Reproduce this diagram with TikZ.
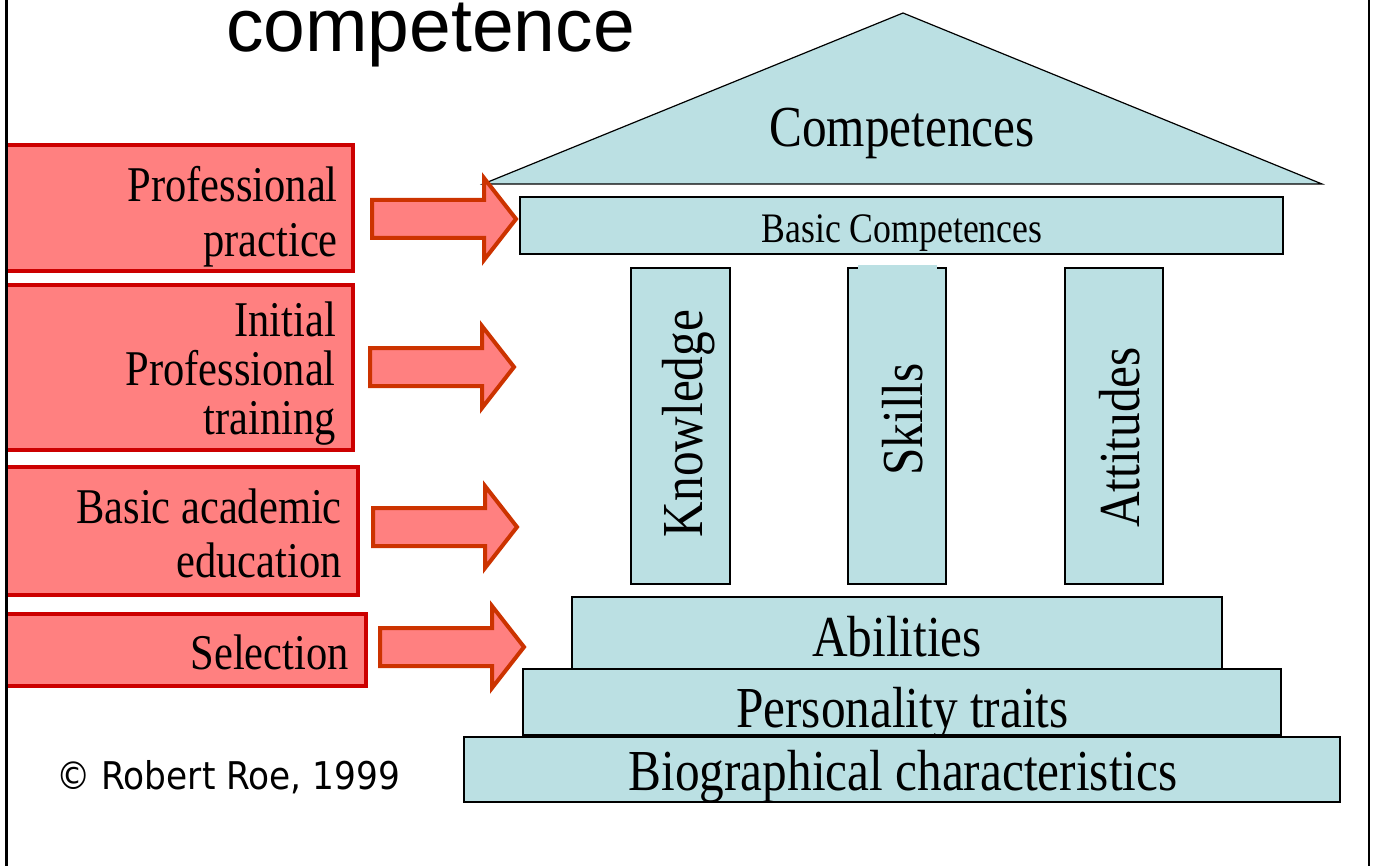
\documentclass[tikz,border=0pt]{standalone}
\usepackage{fontspec}
\newfontfamily\pmserif[FakeStretch=0.85]{Liberation Serif}
\newfontfamily\titlesans{Liberation Sans}
\newfontfamily\notesans[FakeStretch=0.9]{DejaVu Sans}
\definecolor{pillarblue}{RGB}{187,224,227}
\definecolor{boxred}{RGB}{255,128,128}
\definecolor{boxborder}{RGB}{204,0,0}
\definecolor{arrowborder}{RGB}{204,51,0}
\tikzset{
  bluepart/.style={draw=black, line width=1.5pt, fill=pillarblue, inner sep=0pt},
  redbox/.style={draw=boxborder, line width=4.5pt, fill=boxred, inner sep=0pt},
  boxtext/.style={font=\pmserif\fontsize{50}{55}\selectfont, align=right, inner sep=0pt, anchor=north east},
  bigtext/.style={font=\pmserif\fontsize{58}{60}\selectfont, inner sep=0pt, anchor=base},
  blockarrow/.style={draw=arrowborder, line width=4pt, fill=boxred, line join=miter},
}
\begin{document}
\begin{tikzpicture}[x=1pt, y=-1pt]
\useasboundingbox (0,0) rectangle (1375,866);
% title and note
\node[font=\titlesans\fontsize{75}{80}\selectfont, inner sep=0pt, anchor=base west] (title) at (226,52) {competence};
\node[font=\notesans\fontsize{38.2}{40}\selectfont, inner sep=0pt, anchor=base west] (note) at (56,789) {© Robert Roe, 1999};
% roof
\draw[bluepart, line width=1.2pt] (483,184) -- (903,13) -- (1322,184) -- cycle;
\node[bigtext] (roof-t) at (902,147) {Competences};
\node[bluepart, minimum width=763, minimum height=57] (basic) at (901.5,225.5) {};
\node[bigtext, font=\pmserif\fontsize{42}{44}\selectfont] (basic-t) at (902,243) {Basic Competences};
% pillars
\node[bluepart, minimum width=99, minimum height=316] (know) at (680.5,426) {};
\node[bluepart, minimum width=98, minimum height=316] (skill) at (897,426) {};
\node[bluepart, minimum width=98, minimum height=316] (att) at (1114,426) {};
\fill[pillarblue] (858,265) rectangle (937,269);
\node[bigtext, rotate=90] (know-t) at (702,423.5) {Knowledge};
\node[bigtext, rotate=90] (skill-t) at (922,419.5) {Skills};
\node[bigtext, rotate=90] (att-t) at (1139,437.5) {Attitudes};
% steps
\node[bluepart, minimum width=650, minimum height=72] (abil) at (897,633) {};
\node[bigtext] (abil-t) at (897,656) {Abilities};
\node[bluepart, minimum width=758, minimum height=66] (pers) at (902,702) {};
\node[bigtext] (pers-t) at (902.5,727) {Personality traits};
\node[bluepart, minimum width=876, minimum height=65] (bio) at (902,769.5) {};
\node[bigtext] (bio-t) at (903,790) {Biographical characteristics};
% sources
\begin{scope}
\clip (6.5,0) rectangle (1375,866);
\node[redbox, minimum width=365, minimum height=126] (pract) at (170.5,208) {};
\node[redbox, minimum width=365, minimum height=165] (train) at (170.5,367.5) {};
\node[redbox, minimum width=370, minimum height=128] (acad) at (173,531) {};
\node[redbox, minimum width=378, minimum height=72] (sel) at (177,650) {};
\end{scope}
\node[boxtext] (pract-t) at (338,166) {Professional\\practice};
\node[boxtext, font=\pmserif\fontsize{50}{49}\selectfont] (train-t) at (336,302) {Initial\\Professional\\training};
\node[boxtext, font=\pmserif\fontsize{50}{54}\selectfont] (acad-t) at (342,489) {Basic academic\\education};
\node[boxtext] (sel-t) at (349,635) {Selection};
\foreach \n/\tx/\ty in {1/516/219, 2/514/367, 3/517/527, 4/524/647} {
  \coordinate (tip\n) at (\tx,\ty);
  \draw[blockarrow] (tip\n) ++(-144,-19) -- ++(112,0) -- ++(0,-22) -- ++(32,41)
    -- ++(-32,41) -- ++(0,-22) -- ++(-112,0) -- cycle;
}
% frame
\draw[line width=2.5pt] (6.5,0) -- (6.5,866);
\draw[line width=2.5pt] (1369,0) -- (1369,866);
\end{tikzpicture}
\end{document}
